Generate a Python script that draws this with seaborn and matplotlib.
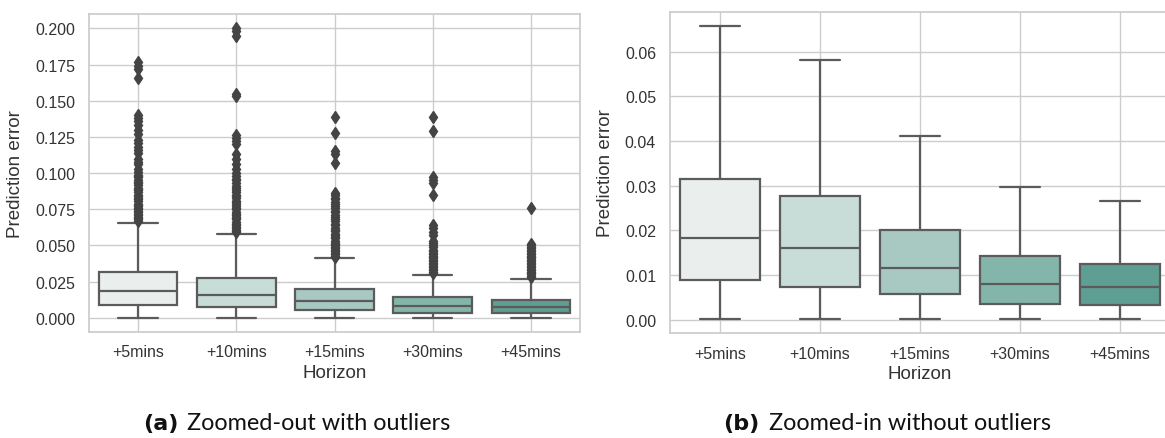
import matplotlib
matplotlib.use("Agg")
import matplotlib.pyplot as plt
import seaborn as sns

# Forecast horizons
horizons = ["+5mins", "+10mins", "+15mins", "+30mins", "+45mins"]

# Box summary statistics of the prediction error per horizon
whisker_low = [0.0002, 0.0002, 0.0002, 0.0002, 0.0002]
q1 = [0.0089, 0.0073, 0.0057, 0.0036, 0.0033]
median = [0.0183, 0.0160, 0.0116, 0.0079, 0.0073]
q3 = [0.0315, 0.0277, 0.0200, 0.0142, 0.0125]
whisker_high = [0.0657, 0.0581, 0.0412, 0.0298, 0.0266]

# Outlying errors beyond the upper whisker
outliers_5 = [0.177, 0.174, 0.172, 0.166, 0.140, 0.138, 0.136, 0.133, 0.130,
              0.127, 0.123, 0.121, 0.118, 0.116, 0.114, 0.110, 0.108, 0.106,
              0.103, 0.101, 0.099, 0.098, 0.097, 0.095, 0.094, 0.093, 0.092,
              0.090, 0.089, 0.088, 0.087, 0.085, 0.084, 0.083, 0.082, 0.081,
              0.079, 0.078, 0.077, 0.076, 0.075, 0.074, 0.073, 0.072, 0.071,
              0.070, 0.069, 0.068, 0.067]
outliers_10 = [0.200, 0.198, 0.195, 0.155, 0.153, 0.126, 0.124, 0.122, 0.120,
               0.113, 0.110, 0.106, 0.103, 0.100, 0.098, 0.096, 0.095, 0.093,
               0.091, 0.090, 0.088, 0.087, 0.085, 0.084, 0.083, 0.081, 0.080,
               0.079, 0.077, 0.076, 0.075, 0.073, 0.072, 0.071, 0.070, 0.069,
               0.068, 0.066, 0.065, 0.064, 0.063, 0.062, 0.061, 0.060, 0.059]
outliers_15 = [0.139, 0.128, 0.115, 0.113, 0.107, 0.086, 0.085, 0.083, 0.082,
               0.080, 0.079, 0.077, 0.076, 0.074, 0.073, 0.071, 0.070, 0.068,
               0.067, 0.065, 0.064, 0.062, 0.061, 0.060, 0.058, 0.057, 0.056,
               0.055, 0.053, 0.052, 0.051, 0.050, 0.049, 0.048, 0.047, 0.046,
               0.045, 0.044, 0.043, 0.042]
outliers_30 = [0.139, 0.129, 0.097, 0.095, 0.093, 0.085, 0.064, 0.062, 0.059,
               0.057, 0.053, 0.052, 0.050, 0.049, 0.047, 0.046, 0.045, 0.044,
               0.043, 0.042, 0.041, 0.040, 0.039, 0.038, 0.037, 0.036, 0.035,
               0.034, 0.033, 0.032, 0.031]
outliers_45 = [0.076, 0.051, 0.050, 0.049, 0.048, 0.047, 0.046, 0.045, 0.044,
               0.043, 0.042, 0.041, 0.040, 0.039, 0.038, 0.037, 0.036, 0.035,
               0.034, 0.033, 0.032, 0.031, 0.030, 0.029, 0.028]
outliers = [outliers_5, outliers_10, outliers_15, outliers_30, outliers_45]

box_colors = ["#eaefed", "#c8ddd8", "#a7c9c1", "#84b5aa", "#5f9e92"]
line_color = "#5b5b5b"
text_color = "#333333"

sns.set_theme(style="whitegrid")
plt.rcParams["font.family"] = ["Liberation Sans", "DejaVu Sans"]


def box_stats(with_outliers):
    stats = []
    for i, name in enumerate(horizons):
        stats.append(dict(
            label=name, whislo=whisker_low[i], q1=q1[i], med=median[i],
            q3=q3[i], whishi=whisker_high[i],
            fliers=outliers[i] if with_outliers else [],
        ))
    return stats


def draw_panel(ax, with_outliers):
    bp = ax.bxp(
        box_stats(with_outliers), positions=range(len(horizons)), widths=0.8,
        patch_artist=True, showfliers=with_outliers,
        boxprops=dict(edgecolor=line_color, linewidth=1.6),
        medianprops=dict(color=line_color, linewidth=1.6),
        whiskerprops=dict(color=line_color, linewidth=1.6),
        capprops=dict(color=line_color, linewidth=1.6),
        flierprops=dict(marker="d", markersize=6.5, markerfacecolor="#444444",
                        markeredgecolor="#444444", linestyle="none"),
    )
    for patch, c in zip(bp["boxes"], box_colors):
        patch.set_facecolor(c)
    ax.set_xlim(-0.5, len(horizons) - 0.5)
    ax.set_xticks(range(len(horizons)))
    ax.set_xticklabels(horizons)
    ax.tick_params(axis="x", length=0, labelsize=11.5, pad=9, colors=text_color)
    ax.tick_params(axis="y", length=0, labelsize=11.5, pad=10, colors=text_color)
    ax.set_xlabel("Horizon", fontsize=13.5, color=text_color, labelpad=3)
    ax.set_ylabel("Prediction error", fontsize=13.5, color=text_color, labelpad=8)
    ax.set_axisbelow(True)


fig = plt.figure(figsize=(11.65, 4.39), dpi=100)
ax1 = fig.add_axes([0.0764, 0.2415, 0.4215, 0.7244])
ax2 = fig.add_axes([0.5751, 0.2385, 0.4292, 0.7326])

draw_panel(ax1, True)
draw_panel(ax2, False)

# Sub-figure captions
cap_y = 1 - 430 / 439
cap_font = ["Lato", "DejaVu Sans"]
fig.text(143 / 1165, cap_y, "(a)", fontsize=16, fontweight="bold",
         family=["DejaVu Sans"], color="#111111")
fig.text(187 / 1165, cap_y, "Zoomed-out with outliers", fontsize=16.8,
         family=cap_font, color="#111111")
fig.text(723 / 1165, cap_y, "(b)", fontsize=16, fontweight="bold",
         family=["DejaVu Sans"], color="#111111")
fig.text(769 / 1165, cap_y, "Zoomed-in without outliers", fontsize=16.8,
         family=cap_font, color="#111111")

fig.savefig("out.png", dpi=100)
